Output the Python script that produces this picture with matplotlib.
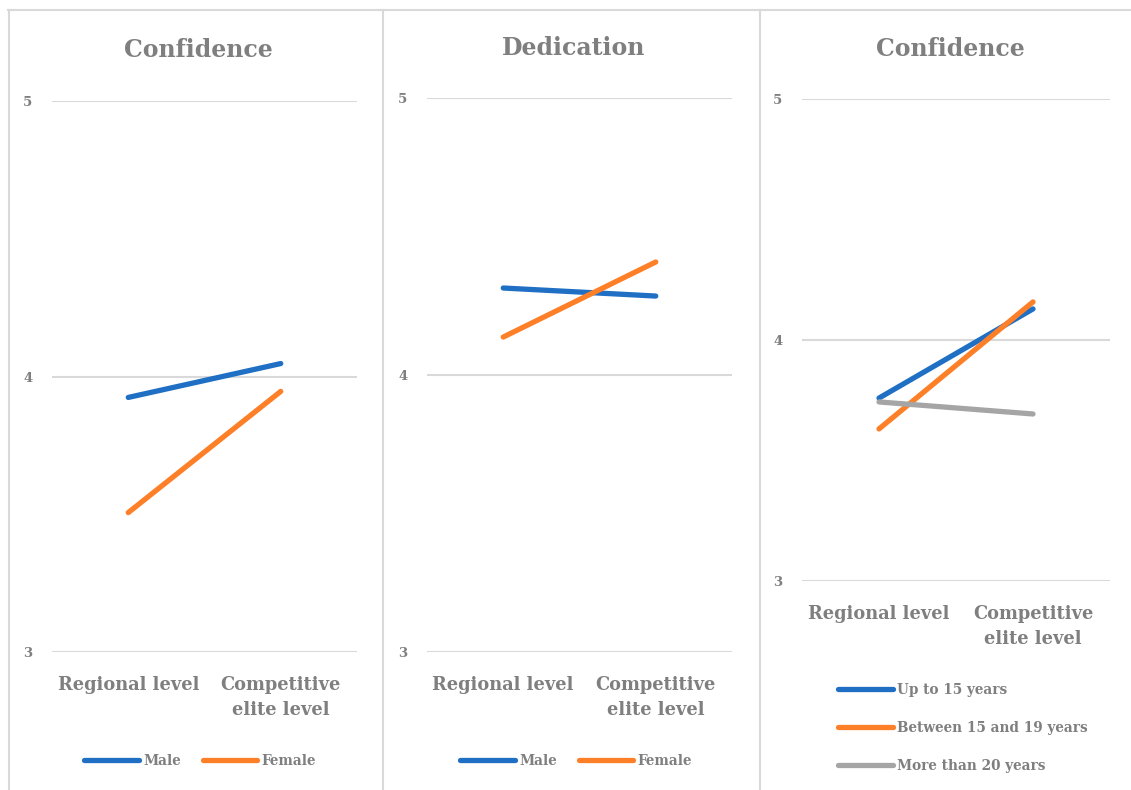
import matplotlib
matplotlib.use("Agg")
import matplotlib.pyplot as plt
from matplotlib.lines import Line2D

# ---- data ----
categories = ["Regional level", "Competitive\nelite level"]
titles = ["Confidence", "Dedication", "Confidence"]

gender_labels = ["Male", "Female"]
confidence_male = [3.924, 4.047]
confidence_female = [3.506, 3.946]
dedication_male = [4.314, 4.285]
dedication_female = [4.137, 4.408]

age_labels = ["Up to 15 years", "Between 15 and 19 years", "More than 20 years"]
conf_up15 = [3.759, 4.129]
conf_15_19 = [3.631, 4.158]
conf_20plus = [3.743, 3.693]

y_ticks = [3, 4, 5]

BLUE = "#1f6fc4"
ORANGE = "#fd7f28"
GRAY = "#a5a5a5"
TXT = "#7f7f7f"
GRID = "#d9d9d9"
FONT = "DejaVu Serif"

W, H = 1131, 790
fig = plt.figure(figsize=(W / 100, H / 100), dpi=100)
fig.patch.set_facecolor("white")

def px_axes(x0, y0, x1, y1):
    return fig.add_axes([x0 / W, 1 - y1 / H, (x1 - x0) / W, (y1 - y0) / H])

# panel borders
for xb in [8.5, 383, 760]:
    fig.add_artist(Line2D([xb / W, xb / W], [0, 1 - 9.5 / H], transform=fig.transFigure,
                          color=GRID, lw=1.5))
fig.add_artist(Line2D([8 / W, 1], [1 - 9.5 / H, 1 - 9.5 / H], transform=fig.transFigure,
                      color=GRID, lw=1.5))

panels = [
    dict(box=(52, 101, 357, 652), title=titles[0], title_y=50,
         series=[confidence_male, confidence_female], labels=gender_labels,
         colors=[BLUE, ORANGE]),
    dict(box=(427, 98, 732, 652), title=titles[1], title_y=48,
         series=[dedication_male, dedication_female], labels=gender_labels,
         colors=[BLUE, ORANGE]),
    dict(box=(802, 99, 1110, 581), title=titles[2], title_y=49,
         series=[conf_up15, conf_15_19, conf_20plus], labels=age_labels,
         colors=[BLUE, ORANGE, GRAY]),
]

axes = []
for p in panels:
    x0, y0, x1, y1 = p["box"]
    ax = px_axes(x0, y0, x1, y1)
    axes.append(ax)
    ax.set_xlim(-0.5, 1.5)
    ax.set_ylim(3, 5)
    ax.set_yticks(y_ticks)
    ax.set_yticklabels([str(t) for t in y_ticks], fontfamily=FONT, fontsize=9.5,
                       fontweight="bold", color=TXT)
    ax.set_xticks([0, 1])
    ax.set_xticklabels(categories, fontfamily=FONT, fontsize=12.8, fontweight="bold",
                       color=TXT, linespacing=1.5)
    for t in ax.get_xticklabels():
        t.set_multialignment("center")
    ax.tick_params(axis="y", length=0, pad=14)
    ax.tick_params(axis="x", length=0, pad=17)
    for s in ax.spines.values():
        s.set_visible(False)
    ax.grid(axis="y", color=GRID, lw=1.5)
    ax.set_axisbelow(True)
    for vals, lab, c in zip(p["series"], p["labels"], p["colors"]):
        ax.plot([0, 1], vals, color=c, lw=3.8, solid_capstyle="round", label=lab)
    cx = (x0 + x1) / 2 - 6
    fig.text(cx / W, 1 - p["title_y"] / H, p["title"], ha="center", va="center",
             fontfamily=FONT, fontsize=17, fontweight="bold", color=TXT)

leg_kw = dict(frameon=False, prop=dict(family=FONT, size=9.8, weight="bold"),
              labelcolor=TXT, handlelength=4.0, handletextpad=0.3)
for i, lx in enumerate([200, 576]):
    h, l = axes[i].get_legend_handles_labels()
    fig.legend(h, l, loc="center", bbox_to_anchor=(lx / W, 1 - 761 / H), ncol=2,
               columnspacing=1.6, **leg_kw)
h, l = axes[2].get_legend_handles_labels()
fig.legend(h, l, loc="center left", bbox_to_anchor=(826 / W, 1 - 728 / H), ncol=1,
           labelspacing=1.75, **leg_kw)

fig.savefig("out.png", dpi=100, facecolor="white")
